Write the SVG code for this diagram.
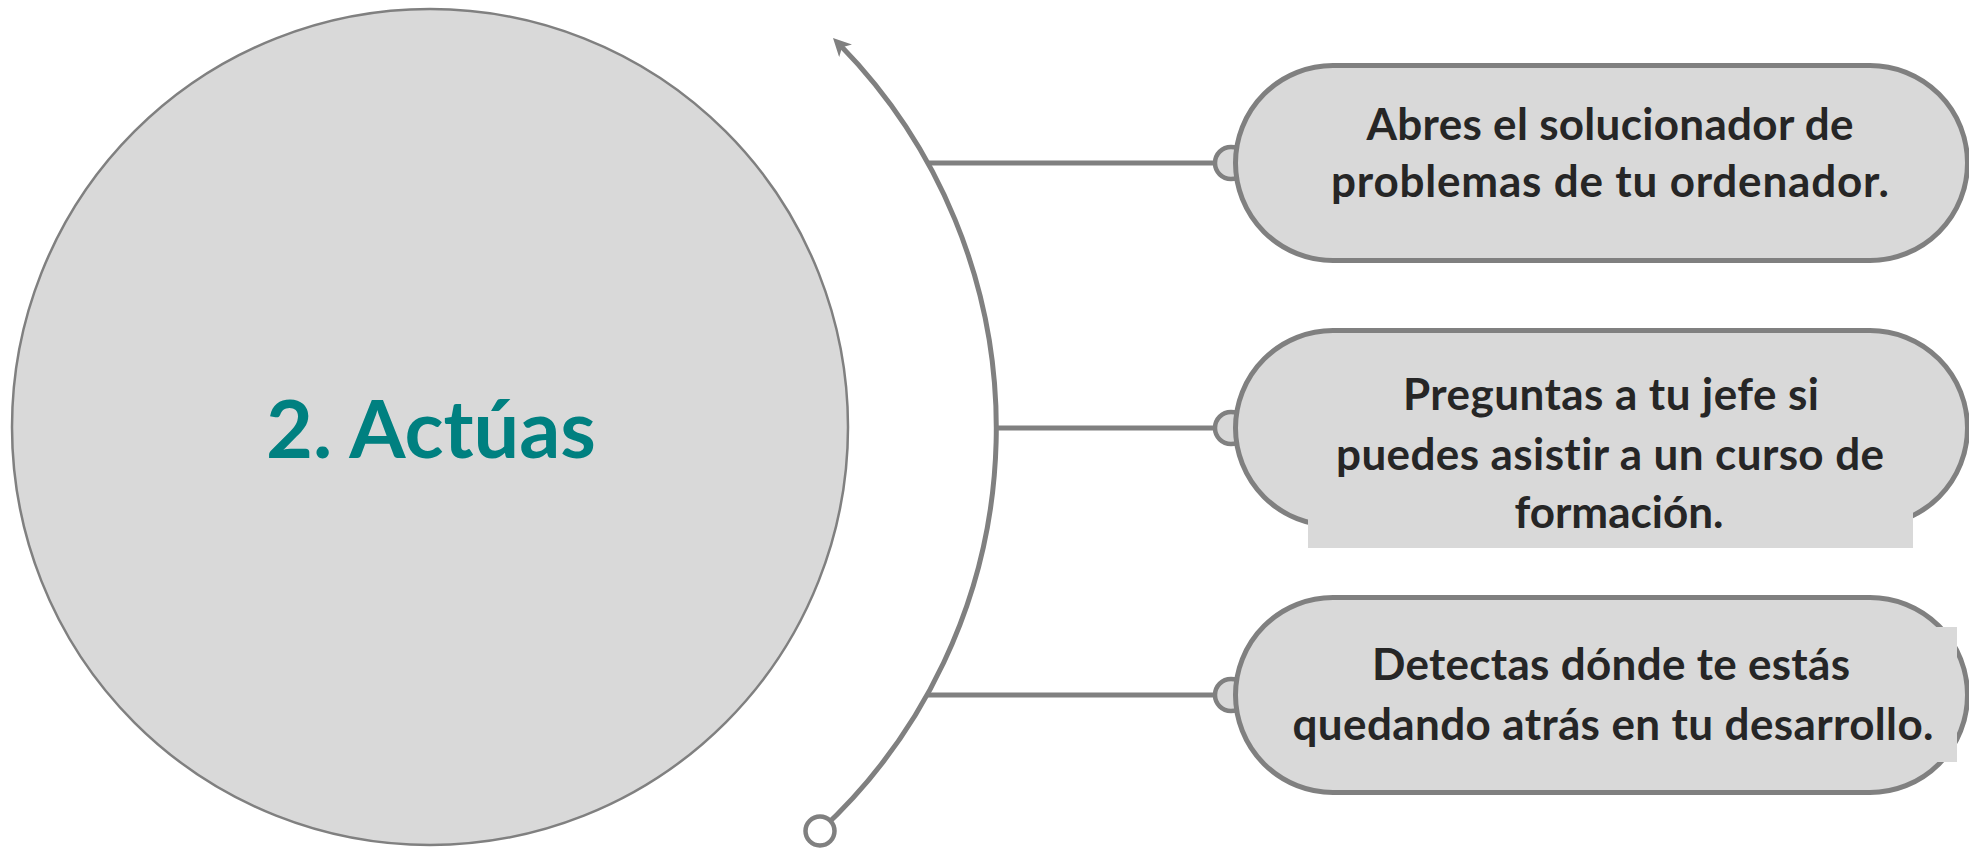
<svg xmlns="http://www.w3.org/2000/svg" width="1969" height="848" viewBox="0 0 1969 848">
  <style>
    .conn { fill: none; stroke: #808080; stroke-width: 5; }
    .knob { fill: #d9d9d9; stroke: #808080; stroke-width: 4.5; }
    .node { fill: #d9d9d9; stroke: #808080; stroke-width: 5; }
    .tbox { fill: #d9d9d9; stroke: none; }
    .label { font-family: Lato, "Open Sans", sans-serif; font-weight: bold; font-size: 44px; fill: #262626; text-anchor: middle; font-variant-ligatures: none; }
    .title { font-family: Lato, "Open Sans", sans-serif; font-weight: bold; font-size: 81px; fill: #008080; text-anchor: middle; font-variant-ligatures: none; }
  </style>
  <defs>
    <marker id="arrow" markerUnits="userSpaceOnUse" markerWidth="20" markerHeight="18" viewBox="0 0 20 18" refX="8" refY="9" orient="auto">
      <path d="M0,0 L18,9 L0,18 L5,9 Z" fill="#808080"/>
    </marker>
  </defs>

  <g id="center">
    <circle cx="430" cy="427" r="418" fill="#d9d9d9" stroke="#808080" stroke-width="2.5"/>
    <text class="title" x="431" y="458">2. Actúas</text>
  </g>

  <g id="connectors">
    <path class="conn" d="M820,831 A548,548 0 0 0 840,45.1" marker-end="url(#arrow)"/>
    <circle cx="820" cy="831" r="14.5" fill="#ffffff" stroke="#808080" stroke-width="4.5"/>
    <path class="conn" d="M927.7,163 H1230"/>
    <path class="conn" d="M996,428 H1230"/>
    <path class="conn" d="M926.6,695 H1230"/>
    <circle class="knob" cx="1231" cy="163" r="16"/>
    <circle class="knob" cx="1231" cy="428" r="16"/>
    <circle class="knob" cx="1231" cy="695" r="16"/>
  </g>

  <g id="node1">
    <rect class="node" x="1235.5" y="65.5" width="732" height="195" rx="97.5" ry="97.5"/>
    <text class="label" x="1610" y="140" textLength="487">Abres el solucionador de</text>
    <text class="label" x="1610" y="197" textLength="558">problemas de tu ordenador.</text>
  </g>

  <g id="node2">
    <rect class="node" x="1235.5" y="330.5" width="732" height="195" rx="97.5" ry="97.5"/>
    <rect class="tbox" x="1308" y="360" width="605" height="188"/>
    <text class="label" x="1611" y="410" textLength="416">Preguntas a tu jefe si</text>
    <text class="label" x="1610" y="470" textLength="548">puedes asistir a un curso de</text>
    <text class="label" x="1619" y="528">formación.</text>
  </g>

  <g id="node3">
    <rect class="node" x="1235.5" y="597.5" width="732" height="195" rx="97.5" ry="97.5"/>
    <rect class="tbox" x="1270" y="627" width="687" height="135"/>
    <text class="label" x="1611" y="680" textLength="478">Detectas dónde te estás</text>
    <text class="label" x="1613" y="740" textLength="641">quedando atrás en tu desarrollo.</text>
  </g>
</svg>
